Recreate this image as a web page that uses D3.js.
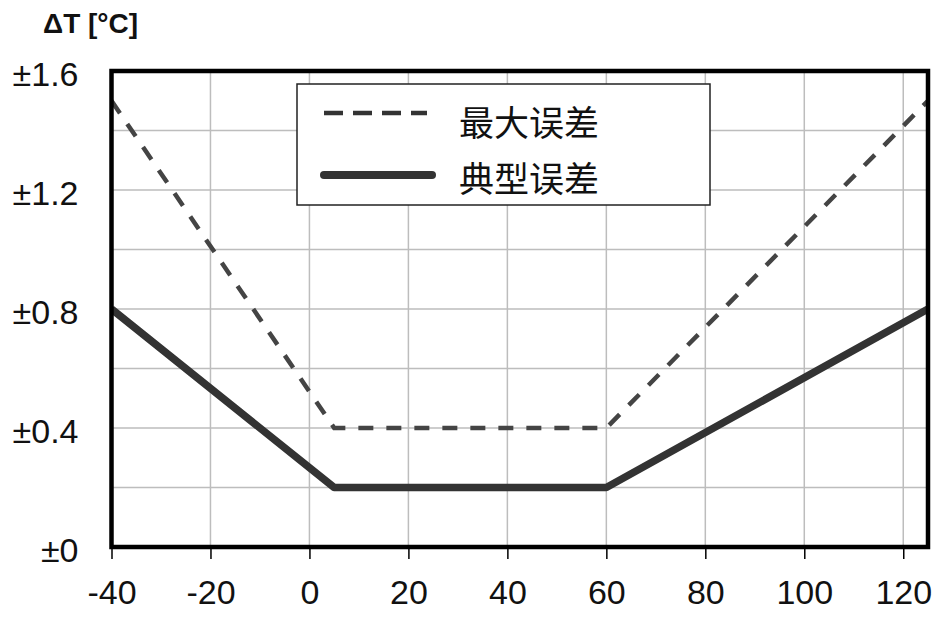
<!DOCTYPE html>
<html>
<head>
<meta charset="utf-8">
<script src="https://cdn.jsdelivr.net/npm/d3@7"></script>
<style>
  html, body { margin: 0; padding: 0; background: #fff; }
</style>
</head>
<body>
<div id="chart"></div>
<script>
// 数据
const tempX = [-40, 5, 60, 125];
const maxErr = [1.5, 0.4, 0.4, 1.5];
const typErr = [0.8, 0.2, 0.2, 0.8];
const xTicks = [-40, -20, 0, 20, 40, 60, 80, 100, 120];
const yTicks = [0, 0.4, 0.8, 1.2, 1.6];
const yGrid = [0.2, 0.4, 0.6, 0.8, 1.0, 1.2, 1.4];
const legendNames = ['最大误差', '典型误差'];

const width = 947;
const height = 619;

const svg = d3.select('#chart').append('svg')
  .attr('width', width)
  .attr('height', height);

const x = d3.scaleLinear().domain([-40, 125]).range([111.5, 928]);
const y = d3.scaleLinear().domain([0, 1.6]).range([547, 71]);

// 网格
const grid = svg.append('g').attr('class', 'grid');
grid.selectAll('.vgrid')
  .data(xTicks.slice(1))
  .enter()
  .append('line')
  .attr('x1', (d) => x(d))
  .attr('x2', (d) => x(d))
  .attr('y1', y(1.6))
  .attr('y2', y(0))
  .attr('stroke', '#bdbdbd')
  .attr('stroke-width', 1.5);
grid.selectAll('.hgrid')
  .data(yGrid)
  .enter()
  .append('line')
  .attr('x1', x(-40))
  .attr('x2', x(125))
  .attr('y1', (d) => y(d))
  .attr('y2', (d) => y(d))
  .attr('stroke', '#bdbdbd')
  .attr('stroke-width', 1.5);

// x 轴
const xAxis = svg.append('g')
  .attr('transform', `translate(0,${y(0)})`)
  .call(d3.axisBottom(x).tickValues(xTicks).tickSize(12).tickPadding(21));
xAxis.select('.domain').remove();
xAxis.selectAll('line').attr('stroke', '#000').attr('stroke-width', 1.5);
xAxis.selectAll('text')
  .attr('font-family', 'Liberation Sans, Arial, sans-serif')
  .attr('font-size', 34)
  .attr('fill', '#111')
  .attr('dy', '0.71em')
  .text((d) => d);

// y 轴
const yAxis = svg.append('g')
  .attr('transform', `translate(${x(-40)},0)`)
  .call(d3.axisLeft(y).tickValues(yTicks).tickSize(0).tickPadding(33));
yAxis.select('.domain').remove();
yAxis.selectAll('text')
  .attr('font-family', 'Liberation Sans, Arial, sans-serif')
  .attr('font-size', 34)
  .attr('fill', '#111')
  .attr('dy', '0.42em')
  .text((d) => '±' + (d === 0 ? '0' : d3.format('.1f')(d)));

// 标题
svg.append('text')
  .attr('x', 43)
  .attr('y', 33)
  .attr('font-family', 'Liberation Sans, Arial, sans-serif')
  .attr('font-weight', 'bold')
  .attr('font-size', 28)
  .attr('fill', '#111')
  .text('ΔT [°C]');

// 曲线
const line = d3.line().x((d) => x(d[0])).y((d) => y(d[1]));
svg.append('clipPath').attr('id', 'plot-clip')
  .append('rect')
  .attr('x', x(-40))
  .attr('y', y(1.6))
  .attr('width', x(125) - x(-40))
  .attr('height', y(0) - y(1.6));

svg.append('path')
  .datum(d3.zip(tempX, maxErr))
  .attr('d', line)
  .attr('fill', 'none')
  .attr('stroke', '#444')
  .attr('stroke-width', 4.5)
  .attr('stroke-dasharray', '15,13')
  .attr('clip-path', 'url(#plot-clip)');

svg.append('path')
  .datum(d3.zip(tempX, typErr))
  .attr('d', line)
  .attr('fill', 'none')
  .attr('stroke', '#333')
  .attr('stroke-width', 7.5)
  .attr('stroke-linejoin', 'round')
  .attr('clip-path', 'url(#plot-clip)');

// 边框
svg.append('rect')
  .attr('x', x(-40))
  .attr('y', y(1.6))
  .attr('width', x(125) - x(-40))
  .attr('height', y(0) - y(1.6))
  .attr('fill', 'none')
  .attr('stroke', '#000')
  .attr('stroke-width', 4.5);

// 图例
const legend = svg.append('g').attr('class', 'legend');
legend.append('rect')
  .attr('x', 297)
  .attr('y', 84)
  .attr('width', 413)
  .attr('height', 121)
  .attr('fill', '#fff')
  .attr('stroke', '#222')
  .attr('stroke-width', 1.5);

const legendStyle = [
  { w: 4.5, dash: '19,10', cap: 'butt', ly: 113, ty: 123 },
  { w: 8, dash: null, cap: 'round', ly: 175, ty: 179 }
];
legend.selectAll('.legendItem')
  .data(legendNames)
  .enter()
  .append('g')
  .attr('class', 'legendItem')
  .each(function (d, i) {
    const g = d3.select(this);
    const s = legendStyle[i];
    g.append('line')
      .attr('x1', 324)
      .attr('x2', i ? 432 : 427)
      .attr('y1', s.ly)
      .attr('y2', s.ly)
      .attr('stroke', '#333')
      .attr('stroke-width', s.w)
      .attr('stroke-linecap', s.cap)
      .attr('stroke-dasharray', s.dash);
    g.append('text')
      .attr('x', 459)
      .attr('y', s.ty)
      .attr('dy', '0.36em')
      .attr('font-family', 'Noto Sans CJK SC, sans-serif')
      .attr('font-size', 35)
      .attr('fill', '#111')
      .text(d);
  });
</script>
</body>
</html>
